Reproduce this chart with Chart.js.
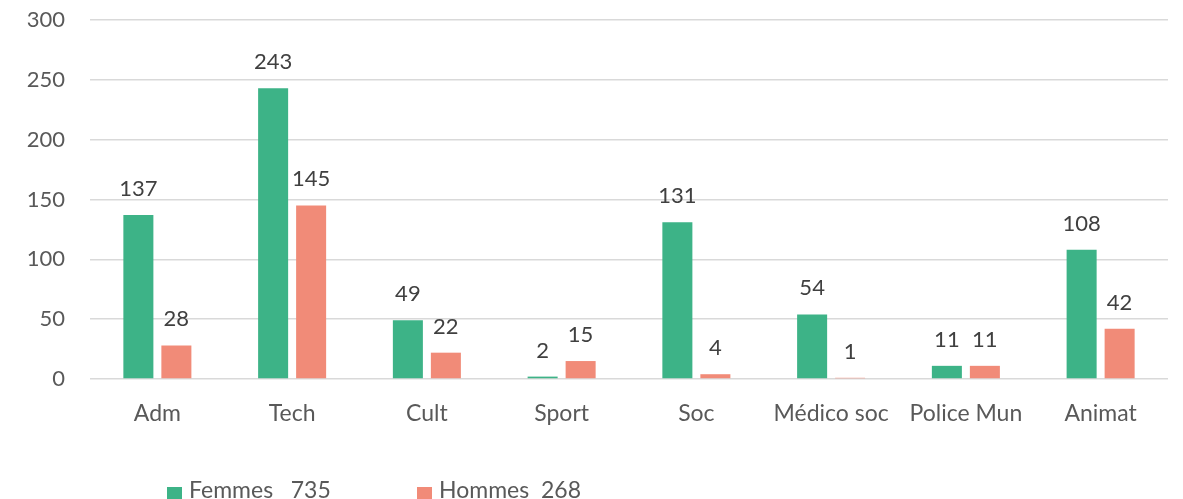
<!DOCTYPE html>
<html>
<head>
<meta charset="utf-8">
<script src="https://cdn.jsdelivr.net/npm/chart.js@4.4.1/dist/chart.umd.min.js"></script>
<style>
html,body{margin:0;padding:0;background:#fff;overflow:hidden;}
#wrap{position:relative;width:1183px;height:499px;}
</style>
</head>
<body>
<div id="wrap"><canvas id="c" width="1183" height="499"></canvas></div>
<script>
const categories = ['Adm', 'Tech', 'Cult', 'Sport', 'Soc', 'Médico soc', 'Police Mun', 'Animat'];
const femmes = [137, 243, 49, 2, 131, 54, 11, 108];
const hommes = [28, 145, 22, 15, 4, 1, 11, 42];
const seriesNames = ['Femmes', 'Hommes'];
const legendLabels = ['Femmes   735', 'Hommes  268'];
const yTicks = [0, 50, 100, 150, 200, 250, 300];

const GREEN = '#3db387';
const SALMON = '#f18b78';
const FONT = 'Lato, "Open Sans", sans-serif';

const valueLabels = {
  id: 'valueLabels',
  afterDatasetsDraw(chart) {
    const ctx = chart.ctx;
    ctx.save();
    ctx.font = '22px ' + FONT;
    ctx.fillStyle = '#404040';
    ctx.textAlign = 'center';
    ctx.textBaseline = 'alphabetic';
    chart.data.datasets.forEach((ds, i) => {
      const meta = chart.getDatasetMeta(i);
      meta.data.forEach((bar, j) => {
        ctx.fillText(String(ds.data[j]), bar.x, bar.y - 19);
      });
    });
    ctx.restore();
  }
};

const customLegend = {
  id: 'customLegend',
  afterDraw(chart) {
    const ctx = chart.ctx;
    const xs = [167, 417];
    ctx.save();
    ctx.font = '23px ' + FONT;
    ctx.textBaseline = 'alphabetic';
    ctx.textAlign = 'left';
    chart.data.datasets.forEach((ds, i) => {
      ctx.fillStyle = ds.backgroundColor;
      ctx.fillRect(xs[i], 487, 15, 15);
      ctx.fillStyle = '#595959';
      ctx.fillText(legendLabels[i], xs[i] + 22, 498);
    });
    ctx.restore();
  }
};

const chart = new Chart(document.getElementById('c'), {
  type: 'bar',
  data: {
    labels: categories,
    datasets: [
      { label: seriesNames[0], data: femmes, backgroundColor: GREEN, categoryPercentage: 0.564, barPercentage: 0.79 },
      { label: seriesNames[1], data: hommes, backgroundColor: SALMON, categoryPercentage: 0.564, barPercentage: 0.79 }
    ]
  },
  options: {
    responsive: false,
    animation: false,
    devicePixelRatio: 1,
    layout: { padding: { left: 0, right: 15, top: 20, bottom: 0 } },
    plugins: {
      legend: { display: false },
      tooltip: { enabled: false },
      title: { display: false }
    },
    scales: {
      x: {
        grid: { display: false },
        border: { display: false },
        ticks: { color: '#595959', font: { family: FONT, size: 23 }, padding: 13, maxRotation: 0, autoSkip: false },
        afterFit(scale) { scale.height = 120; }
      },
      y: {
        min: 0, max: 300,
        afterBuildTicks(scale) { scale.ticks = yTicks.map(v => ({ value: v })); },
        grid: { color: '#d9d9d9', lineWidth: 1.5, drawTicks: false },
        border: { display: false },
        ticks: { color: '#595959', font: { family: FONT, size: 22 }, padding: 25 },
        afterFit(scale) { scale.width = 90; scale.paddingTop = 0; scale.paddingBottom = 0; }
      }
    }
  },
  plugins: [valueLabels, customLegend]
});
</script>
</body>
</html>
